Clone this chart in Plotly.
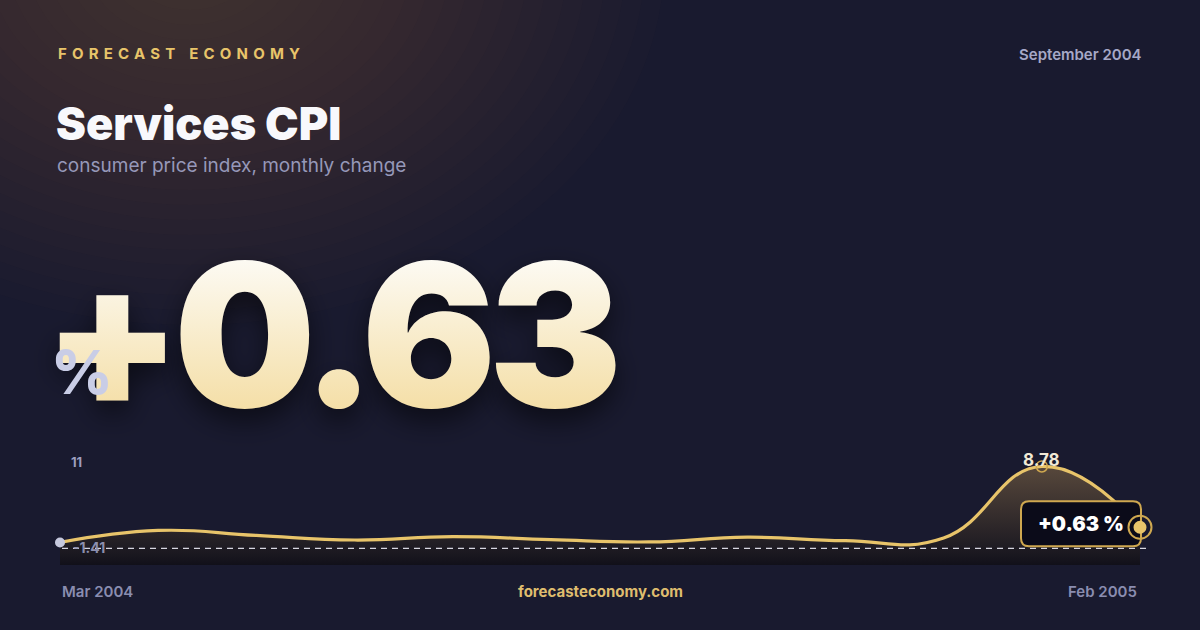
import plotly.graph_objects as go

# ---------------- data ----------------
MONTHS = ["Mar 2004", "Apr 2004", "May 2004", "Jun 2004", "Jul 2004", "Aug 2004",
          "Sep 2004", "Oct 2004", "Nov 2004", "Dec 2004", "Jan 2005", "Feb 2005"]
VALUES = [-1.41, 0.20, -0.47, -1.08, -0.63, -1.03, -1.34, -0.70, -1.17, -0.80, 8.78, 0.63]
AXIS_MAX_LABEL = "11"
BRAND = "FORECAST ECONOMY"
TITLE = "Services CPI"
SUBTITLE = "consumer price index, monthly change"
DATE_LABEL = "September 2004"
SITE = "forecasteconomy.com"

# ---------------- style ----------------
W, H = 1200, 630
BG = "#191a2f"
GOLD = "#e8c46a"
GOLD_DARK = "#cfa850"
FONT = "Inter"
HEAVY = "Inter ExtraBold, Inter Black, Inter"
BLACK = "Inter Black, Roboto"

def px(x):
    return x / W

def py(y):
    return 1 - y / H

idx = list(range(len(MONTHS)))
last_i = idx[-1]
last_v = VALUES[-1]
peak_v = max(VALUES)
peak_i = VALUES.index(peak_v)
min_v = min(VALUES)

# plot area: first month at x=60px, last month at x=1140px, area extends a bit right
X0_PX, X1_PX, XR_PX = 60, 1140, 1165
step = (X1_PX - X0_PX) / last_i
X_HI = last_i + (XR_PX - X1_PX) / step
Y_LO, Y_HI = -4.43, 11.66          # axis range (layout)

fig = go.Figure()

# baseline for area fill
fig.add_trace(go.Scatter(x=idx, y=[Y_LO] * len(idx), mode="lines",
                         line=dict(width=0), hoverinfo="skip", showlegend=False))
# area + line
fig.add_trace(go.Scatter(
    x=idx, y=VALUES, mode="lines",
    line=dict(color=GOLD, width=3.2, shape="spline", smoothing=1.3),
    fill="tonexty",
    fillgradient=dict(type="vertical", start=Y_LO, stop=peak_v,
                      colorscale=[[0.0, "rgba(12,10,14,0.65)"],
                                  [0.17, "rgba(35,28,22,0.5)"],
                                  [1.0, "rgba(150,118,72,0.5)"]]),
    hoverinfo="skip", showlegend=False))
# start dot
fig.add_trace(go.Scatter(x=[idx[0]], y=[VALUES[0]], mode="markers",
                         marker=dict(size=10, color="#c6c9de"), cliponaxis=False,
                         hoverinfo="skip", showlegend=False))
# peak marker
fig.add_trace(go.Scatter(x=[peak_i], y=[peak_v], mode="markers",
                         marker=dict(size=11, color="rgba(0,0,0,0)",
                                     line=dict(color=GOLD_DARK, width=1.5)),
                         cliponaxis=False, hoverinfo="skip", showlegend=False))

shapes = []
# background warm glow (top-left), many faint elliptical layers
for k in range(24):
    r = 20 + k * 15
    cx, cy = 190, -40
    shapes.append(dict(type="circle", xref="paper", yref="paper", layer="below",
                       x0=px(cx - 1.3 * r), x1=px(cx + 1.3 * r), y0=py(cy + r), y1=py(cy - r),
                       fillcolor="rgba(128,104,46,0.018)", line=dict(width=0)))
# dashed baseline
shapes.append(dict(type="line", xref="paper", yref="paper", layer="above",
                   x0=px(62), x1=px(1147), y0=py(548.3), y1=py(548.3),
                   line=dict(color="rgba(235,235,245,0.9)", width=1.3, dash="6px,5px")))
# rounded value box anchored at last point
L, R, B, T, r = -119, 1, -19, 26, 8
box_path = (f"M {L+r},{B} L {R-r},{B} Q {R},{B} {R},{B+r} L {R},{T-r} Q {R},{T} {R-r},{T} "
            f"L {L+r},{T} Q {L},{T} {L},{T-r} L {L},{B+r} Q {L},{B} {L+r},{B} Z")
shapes.append(dict(type="path", xref="x", yref="y", xsizemode="pixel", ysizemode="pixel",
                   xanchor=last_i, yanchor=last_v, path=box_path, layer="above",
                   fillcolor="#0b0b19", line=dict(color=GOLD_DARK, width=2)))
# end marker ring + dot
shapes.append(dict(type="circle", xref="x", yref="y", xsizemode="pixel", ysizemode="pixel",
                   xanchor=last_i, yanchor=last_v, x0=-11.5, x1=11.5, y0=-11.5, y1=11.5,
                   layer="above", fillcolor="rgba(0,0,0,0)", line=dict(color=GOLD_DARK, width=2)))
shapes.append(dict(type="circle", xref="x", yref="y", xsizemode="pixel", ysizemode="pixel",
                   xanchor=last_i, yanchor=last_v, x0=-6.5, x1=6.5, y0=-6.5, y1=6.5,
                   layer="above", fillcolor=GOLD, line=dict(width=0)))

ann = []

def text(t, x, y, size, color, weight=400, xanchor="left", yanchor="middle",
         xref="paper", yref="paper", family=FONT, extra_font=None, **kw):
    f = dict(family=family, size=size, color=color, weight=weight)
    if extra_font:
        f.update(extra_font)
    ann.append(dict(text=t, x=x, y=y, xref=xref, yref=yref, xanchor=xanchor,
                    yanchor=yanchor, showarrow=False, font=f, **kw))

text(f'<span style="letter-spacing:5.2px">{BRAND}</span>', px(56), py(53), 15, GOLD, 700)
text(DATE_LABEL, px(1144), py(54), 15, "#a6a8c6", 600, xanchor="right")
text(TITLE, px(54), py(124), 45, "#f8f8fc", 900, family=BLACK)
text(SUBTITLE, px(55), py(166), 19, "#9698b9", 400)

big = f"{last_v:+.2f}"
text(f'<span style="letter-spacing:-8px">{big}</span>', px(41), py(334), 200, "#f8ecc9", 900,
     family=BLACK, extra_font=dict(shadow="0px 12px 28px rgba(0,0,0,0.55)"))
text("%", px(49), py(372), 60, "#c9cde6", 800, family=HEAVY)

text(AXIS_MAX_LABEL, px(69), py(462), 13, "#9c9ebf", 700)
text(f"{min_v:.2f}", px(71), py(547), 14, "#8c8fae", 700)
text(f"{peak_v:.2f}", peak_i, peak_v, 17, "#f1e9d6", 700, xanchor="center",
     xref="x", yref="y", yshift=6)
text(f"{last_v:+.2f} %", last_i, last_v, 20, "#ffffff", 900, family=BLACK, xanchor="center",
     xref="x", yref="y", xshift=-59, yshift=3.5)

text(MONTHS[0], 0, py(591), 15, "#8a8db0", 600, xref="x", xshift=0)
text(MONTHS[-1], last_i, py(591), 15, "#8a8db0", 600, xanchor="right", xref="x", xshift=-1)
text(SITE, 0.5, py(591), 15, "#dfbd6e", 700, xanchor="center")

fig.update_layout(
    width=W, height=H, margin=dict(l=0, r=0, t=0, b=0),
    paper_bgcolor=BG, plot_bgcolor="rgba(0,0,0,0)",
    xaxis=dict(domain=[px(X0_PX), px(XR_PX)], range=[0, X_HI], visible=False, fixedrange=True),
    yaxis=dict(domain=[py(565), py(445)], range=[Y_LO, Y_HI], visible=False, fixedrange=True),
    shapes=shapes, annotations=ann, showlegend=False,
)

POST = """
document.body.style.margin = '0';
var ns = 'http://www.w3.org/2000/svg';
var svg = document.querySelector('.main-svg');
var defs = svg.querySelector('defs');
if (!defs) { defs = document.createElementNS(ns, 'defs'); svg.insertBefore(defs, svg.firstChild); }
var g = document.createElementNS(ns, 'linearGradient');
g.setAttribute('id', 'bigNumGrad');
g.setAttribute('x1', '0'); g.setAttribute('y1', '0'); g.setAttribute('x2', '0'); g.setAttribute('y2', '1');
[['0.15', '#fdfcf8'], ['0.85', '#f4dda2']].forEach(function (s) {
  var st = document.createElementNS(ns, 'stop');
  st.setAttribute('offset', s[0]); st.setAttribute('stop-color', s[1]); g.appendChild(st);
});
defs.appendChild(g);
document.querySelectorAll('.annotation-text').forEach(function (t) {
  if (t.textContent.trim() === '%s') { t.style.fill = 'url(#bigNumGrad)'; }
});
""" % big

fig.write_html("out.html", post_script=POST, config={"displayModeBar": False})
